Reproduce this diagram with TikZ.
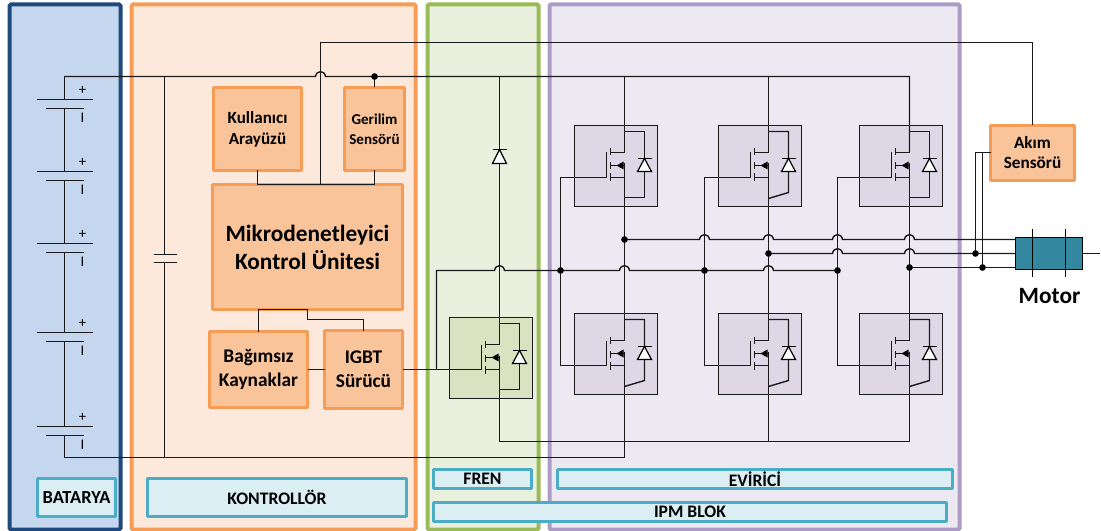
\documentclass[tikz,border=0pt]{standalone}
\usepackage{fontspec}
\setmainfont{Carlito}
\definecolor{wirec}{HTML}{1A1A1A}
\definecolor{batF}{HTML}{C5D7EF}\definecolor{batS}{HTML}{1F497D}
\definecolor{conF}{HTML}{FCE9DB}\definecolor{conS}{HTML}{F79C55}
\definecolor{freF}{HTML}{E9F0DD}\definecolor{freS}{HTML}{9BBB59}
\definecolor{ipmF}{HTML}{ECE9F2}\definecolor{ipmS}{HTML}{AD9CC6}
\definecolor{blkF}{HTML}{F9C499}
\definecolor{labF}{HTML}{DAEEF3}\definecolor{labS}{HTML}{4BACC6}
\definecolor{swP}{HTML}{DED8E6}\definecolor{swG}{HTML}{D9E3C2}
\definecolor{motF}{HTML}{33879F}
\tikzset{
 panel/.style={draw,line width=3pt,rounded corners=1pt},
 blk/.style={draw=conS,fill=blkF,line width=2.2pt,rounded corners=.6pt,align=center,font=\bfseries},
 lab/.style={draw=labS,fill=labF,line width=2.2pt,rounded corners=.6pt,font=\bfseries\fontsize{13.2}{15}\selectfont},
 wire/.style={draw=wirec,line width=1.05pt},
 dot/.style={circle,fill=black,inner sep=0pt,minimum size=5pt},
 swbox/.style={draw=wirec,line width=1.05pt},
 plus/.style={font=\fontsize{11}{12}\selectfont,inner sep=0pt},
}
\newcommand{\pxbox}[7][]{\node[#2,outer sep=0pt,inner sep=0pt,minimum width={(#5-#3)*0.75pt},minimum height={(#6-#4)*0.75pt},#1] (#7) at ({(#3+#5)/2},{(#4+#6)/2})}
% hop over a vertical wire at x=#1 on a horizontal wire at y=#2
\newcommand{\hop}[2]{-- (#1-5,#2) .. controls (#1-4,#2-6.5) and (#1+4,#2-6.5) .. (#1+5,#2)}
% \swframe{name}{x}{y}{fill}{drain rel x}
\newcommand{\swframe}[5]{%
 \node[swbox,fill=#4,outer sep=0pt,inner sep=0pt,minimum width=62.5pt,minimum height=60.75pt] (#1) at ({#2+41.5},{#3+40.5}) {};
 \coordinate (#1-d) at ({#2+#5},{#3+27});
 \coordinate (#1-s) at ({#2+#5},{#3+38});
 \coordinate (#1-g) at ({#2+32},{#3+52});
}
% \swsym{name}{x}{y}{drain rel x}{loop y at diode}{loop y at drain}
\newcommand{\swsym}[6]{%
 \begin{scope}[shift={(#2,#3)}]
  \draw[wire] (#4,6) -| (70,#5) -- (#4,#6);
  \draw[wire] (32,27) -- (32,52);
  \draw[wire] (36,23) -- (36,30) (36,37) -- (36,44) (36,48) -- (36,56);
  \draw[wire] (36,27) -- (#4,27) (36,52) -- (#4,52);
  \draw[draw=black,line width=1.3pt] (36,40) -- (#4,40);
  \fill[black] (42,40) -- (49,36) -- (49,44) -- cycle;
  \draw[black,line width=.9pt,fill=white] (70,33) -- (63,46) -- (77,46) -- cycle;
  \draw[black,line width=.9pt] (63,33) -- (77,33);
 \end{scope}
}
\begin{document}
\begin{tikzpicture}[x=0.75pt,y=-0.75pt]
\useasboundingbox (-.5,-.5) rectangle (1100.5,530.5);
\fill[white] (-.5,-.5) rectangle (1100.5,530.5);
% panels
\pxbox[draw=batS,fill=batF]{panel}{9}{4}{120}{529}{Pbat} {};
\pxbox[draw=conS,fill=conF]{panel}{131}{4}{415}{529}{Pcon} {};
\pxbox[draw=freS,fill=freF]{panel}{427}{4}{538}{529}{Pfre} {};
\pxbox[draw=ipmS,fill=ipmF]{panel}{549}{4}{959}{529}{Pipm} {};
% label strips
\pxbox[font=\bfseries\fontsize{13.8}{15}\selectfont]{lab}{37}{478}{115}{516}{Lbat} {BATARYA};
\pxbox{lab}{147}{478}{406}{516}{Lcon} {KONTROLLÖR};
\pxbox{lab}{433}{469}{531}{488}{Lfre} {FREN};
\pxbox{lab}{557}{469}{952}{488}{Levi} {EVİRİCİ};
\pxbox{lab}{433}{502}{946}{521}{Lipm} {IPM BLOK};
% functional blocks
\pxbox[font=\bfseries\fontsize{12.8}{15.7}\selectfont]{blk}{213}{87}{301}{170}{Kul} {Kullanıcı\\Arayüzü};
\pxbox[font=\bfseries\fontsize{11.3}{15}\selectfont]{blk}{344}{87}{404}{170}{Ger} {Gerilim\\Sensörü};
\pxbox[font=\bfseries\fontsize{17.5}{21}\selectfont]{blk}{212}{184}{402}{309}{Mik} {Mikrodenetleyici\\Kontrol Ünitesi};
\pxbox[font=\bfseries\fontsize{14.5}{18}\selectfont]{blk}{209}{331}{307}{407}{Bag} {Bağımsız\\Kaynaklar};
\pxbox[font=\bfseries\fontsize{14.5}{18}\selectfont]{blk}{324}{330}{402}{408}{Igb} {IGBT\\Sürücü};
\pxbox[font=\bfseries\fontsize{12.9}{15}\selectfont]{blk}{990}{125}{1074}{180}{Aks} {Akım\\Sensörü};
% switch frames
\swframe{U1}{574}{125}{swP}{50}
\swframe{U2}{718}{125}{swP}{50}
\swframe{U3}{859}{125}{swP}{50}
\swframe{L1}{574}{313}{swP}{50}
\swframe{L2}{718}{313}{swP}{50}
\swframe{L3}{859}{313}{swP}{50}
\swframe{Br}{449}{317}{swG}{50}
% junction coordinates
\coordinate (busL) at (64,76);
\coordinate (busB) at (64,457);
\coordinate (topL) at (320,42);
\coordinate (capT) at (164,254);
\coordinate (capB) at (164,262);
\coordinate (jGer) at (374,76);
% battery
\foreach \n/\y in {1/99,2/171,3/243,4/332,5/426}{
 \coordinate (c\n a) at (64,\y);
 \coordinate (c\n b) at (64,\y+9);
 \draw[wire] (36,\y) -- (92,\y) (45,\y+9) -- (83,\y+9);
 \node[plus] (pl\n) at (82,\y-9) {+};
 \node[plus] (mi\n) at (82,\y+18) {I};
}
\draw[wire] (busL) -- (c1a) (c1b) -- (c2a) (c2b) -- (c3a) (c3b) -- (c4a) (c4b) -- (c5a) (c5b) -- (busB);
% capacitor
\draw[wire] (164,76) -- (capT) (capB) -- (164,457);
\draw[wire] (153,254) -- (176,254) (153,262) -- (176,262);
% main buses
\draw[wire] (busL) \hop{320}{76} -- (U3-d |- busL) -- (U3-d);
\draw[wire] (busB) -- (L1-s |- busB) -- (L1-s);
\draw[wire] (U1-d |- busL) -- (U1-d);
\draw[wire] (U2-d |- busL) -- (U2-d);
% top signal line
\draw[wire] (Mik.north -| topL) -- (topL) -| (Aks.north);
% block links
\draw[wire] (Kul.south) |- (Mik.north) -| (Ger.south);
\draw[wire] (Ger.north) -- (jGer);
\draw[wire] (Bag.north) -- (Bag.north |- Mik.south) -- (307,309) -- (307,319) -| (Igb.north);
\draw[wire] (Bag.east) -- (Bag.east -| Igb.west);
\draw[wire] (Igb.east) -- (Br-g);
% brake leg
\coordinate (bot) at (499,441);
\draw[wire] (499,76) -- (Br-d);
\draw[wire] (Br-s) -- (bot) -- (L3-s |- bot) -- (L3-s);
\draw[wire] (L2-s) -- (L2-s |- bot);
\draw[black,line width=.9pt,fill=white] (499,149) -- (492,163) -- (506,163) -- cycle;
\draw[black,line width=.9pt] (492,149) -- (506,149);
% leg links
\foreach \c in {1,2,3}{ \draw[wire] (U\c-s) -- (L\c-d); }
% gate lines
\coordinate (gB) at (436,270);
\draw[wire] (U1-g) -| (560,270) |- (L1-g);
\draw[wire] (U2-g) -| (704,270) |- (L2-g);
\draw[wire] (U3-g) -| (837,270) |- (L3-g);
\draw[wire] (Br-g -| gB) -- (gB) \hop{499}{270} \hop{624}{270} \hop{768}{270} -- (837,270);
% phase lines
\coordinate (ph1) at (624,239);
\coordinate (ph2) at (768,253);
\coordinate (ph3) at (909,267);
\pxbox[draw=black,fill=motF,line width=1.05pt]{rectangle}{1015}{237}{1082}{269}{Mot} {};
\draw[wire] (ph1) \hop{704}{239} \hop{768}{239} \hop{837}{239} \hop{909}{239} -- (ph1 -| Mot.west);
\draw[wire] (ph2) \hop{837}{253} \hop{909}{253} -- (Mot.west);
\draw[wire] (ph3) -- (ph3 -| Mot.west);
\draw[black,line width=1.3pt] (1032,229) -- (1032,277) (1065,229) -- (1065,277);
\draw[wire] (Mot.east) -- ++(17,0);
% current sensor taps
\coordinate (aT) at (975,152);
\coordinate (bT) at (982,152);
\coordinate (aJ) at (975,253);
\coordinate (bJ) at (982,267);
\draw[wire] (aJ) -- (aT) -- (aT -| Aks.west);
\draw[wire] (bJ) -- (bT);
% switches
\swsym{U1}{574}{125}{50}{72}{72}
\swsym{U2}{718}{125}{50}{67}{73}
\swsym{U3}{859}{125}{50}{72}{72}
\swsym{L1}{574}{313}{50}{67}{73}
\swsym{L2}{718}{313}{50}{67}{73}
\swsym{L3}{859}{313}{50}{67}{73}
\swsym{Br}{449}{317}{50}{72}{72}
% dots
\foreach \p/\n in {jGer/d1,ph1/d2,ph2/d3,ph3/d4,aJ/d5,bJ/d6}{ \node[dot] (\n) at (\p) {}; }
\node[dot] (d7) at (560,270) {};
\node[dot] (d8) at (704,270) {};
\node[dot] (d9) at (837,270) {};
\node[font=\bfseries\fontsize{17.5}{20}\selectfont,inner sep=0pt] (mlabel) at (1049,296) {Motor};
\end{tikzpicture}
\end{document}
